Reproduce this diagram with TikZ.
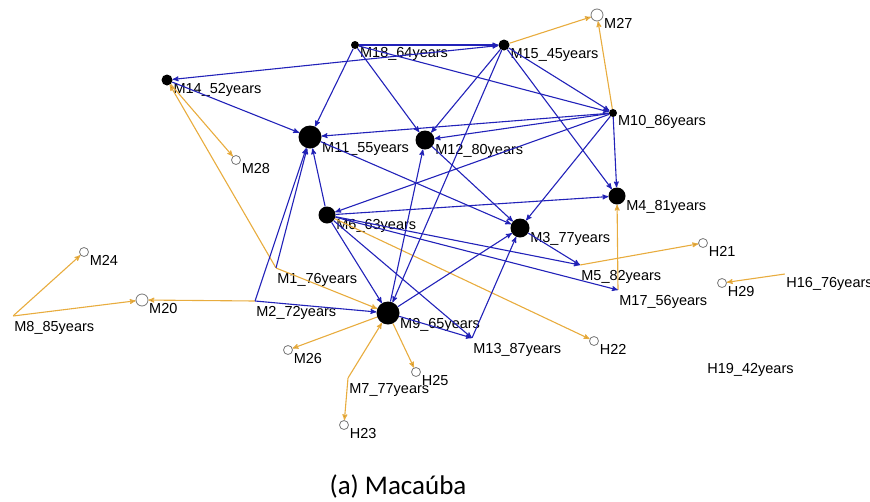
\documentclass[tikz,border=0pt]{standalone}
\usepackage{fontspec}
\usepackage{xcolor}
\usepackage{tikz}
\usetikzlibrary{arrows}
\newfontfamily\labfam{Liberation Sans}
\newfontfamily\capfam{Carlito}
\definecolor{tieblue}{RGB}{34,34,185}
\definecolor{kingold}{RGB}{232,172,62}
\definecolor{ringgray}{RGB}{120,120,120}

\tikzset{
  actor/.style={circle, fill=black, inner sep=0pt, minimum size=#1},
  hole/.style={circle, draw=ringgray, fill=white, line width=0.8pt, inner sep=0pt, minimum size=#1},
  ghost/.style={inner sep=0pt, minimum size=0pt},
  lbl/.style={anchor=north west, inner sep=1pt, font=\labfam\fontsize{14.5}{16}\selectfont},
  tie/.style={->, >=stealth', draw=tieblue, line width=1.1pt},
  kin/.style={->, >=stealth', draw=kingold, line width=1.1pt}
}

\begin{document}
\begin{tikzpicture}[x=1pt, y=-1pt]
\useasboundingbox (0,0) rectangle (870,501);

% actors with ties
\node[actor=8pt, label={[lbl]-20:M18\_64years}] (m18) at (355,45) {};
\node[actor=11pt, label={[lbl]-20:M15\_45years}] (m15) at (504,45) {};
\node[actor=11pt, label={[lbl]-20:M14\_52years}] (m14) at (167,80) {};
\node[actor=8pt, label={[lbl]-20:M10\_86years}] (m10) at (613,113) {};
\node[actor=23pt, label={[lbl]-20:M11\_55years}] (m11) at (310,137) {};
\node[actor=19pt, label={[lbl]-20:M12\_80years}] (m12) at (425,140) {};
\node[actor=17pt, label={[lbl]-20:M4\_81years}] (m4) at (617,196) {};
\node[actor=17pt, label={[lbl]-20:M6\_63years}] (m6) at (327,215) {};
\node[actor=19pt, label={[lbl]-20:M3\_77years}] (m3) at (520,228) {};
\node[actor=23pt, label={[lbl]-20:M9\_65years}] (m9) at (388,313) {};

% actors without a dot
\node[ghost, label={[lbl, yshift=-4pt]-20:M1\_76years}] (m1) at (276,268) {};
\node[ghost, label={[lbl, yshift=-4pt]-20:M2\_72years}] (m2) at (255,301) {};
\node[ghost, label={[lbl, yshift=-4pt]-20:M5\_82years}] (m5) at (580,265) {};
\node[ghost, label={[lbl, yshift=-4pt]-20:M17\_56years}] (m17) at (618,290) {};
\node[ghost, label={[lbl, yshift=-4pt]-20:M13\_87years}] (m13) at (472,338) {};
\node[ghost, label={[lbl, yshift=-4pt]-20:M7\_77years}] (m7) at (348,378) {};
\node[ghost, label={[lbl, yshift=-4pt]-20:M8\_85years}] (m8) at (13,316) {};
\node[ghost, label={[lbl, yshift=-2pt]-20:H16\_76years}] (h16) at (785,274) {};
\node[ghost, label={[lbl, yshift=-4pt]-20:H19\_42years}] (h19) at (706,358) {};

% kin only
\node[hole=12pt, label={[lbl]-20:M27}] (m27) at (597,15) {};
\node[hole=9pt, label={[lbl]-20:M28}] (m28) at (236,160) {};
\node[hole=9pt, label={[lbl]-20:H21}] (h21) at (703,243) {};
\node[hole=9pt, label={[lbl]-20:M24}] (m24) at (84,252) {};
\node[hole=12pt, label={[lbl]-20:M20}] (m20) at (142,300) {};
\node[hole=9pt, label={[lbl]-20:H29}] (h29) at (722,283) {};
\node[hole=9pt, label={[lbl]-20:H22}] (h22) at (594,341) {};
\node[hole=9pt, label={[lbl]-20:M26}] (m26) at (288,350) {};
\node[hole=9pt, label={[lbl]-20:H25}] (h25) at (416,372) {};
\node[hole=9pt, label={[lbl]-20:H23}] (h23) at (344,425) {};

\path[kin]
(m15) edge (m27)
(m10) edge (m27)
(m14) edge (m28)
(m1) edge (m14)
	edge (m9)
(m8) edge (m24)
	edge (m20)
(m2) edge (m20)
(m9) edge (m26)
	edge (h25)
(m7) edge (m9)
	edge (h23)
(m6) edge (h22)
(m5) edge (h21)
(m17) edge (m4)
(h16) edge (h29);

\path[tie]
(m18) edge (m15)
	edge (m11)
	edge (m12)
	edge (m10)
(m15) edge [<->] (m14)
	edge (m12)
	edge (m9)
	edge (m10)
	edge (m4)
(m14) edge (m11)
(m10) edge (m11)
	edge (m12)
	edge (m6)
	edge (m4)
	edge (m3)
(m11) edge (m3)
(m12) edge (m3)
(m1) edge (m11)
(m2) edge (m11)
	edge (m9)
(m6) edge (m11)
	edge (m4)
	edge (m9)
	edge (m13)
	edge (m5)
	edge (m17)
(m9) edge (m12)
	edge (m3)
	edge (m13)
(m3) edge (m5)
(m13) edge (m3);

\node[font=\capfam\fontsize{27}{32}\selectfont] (cap) at (398,486) {(a) Macaúba};
\end{tikzpicture}
\end{document}
